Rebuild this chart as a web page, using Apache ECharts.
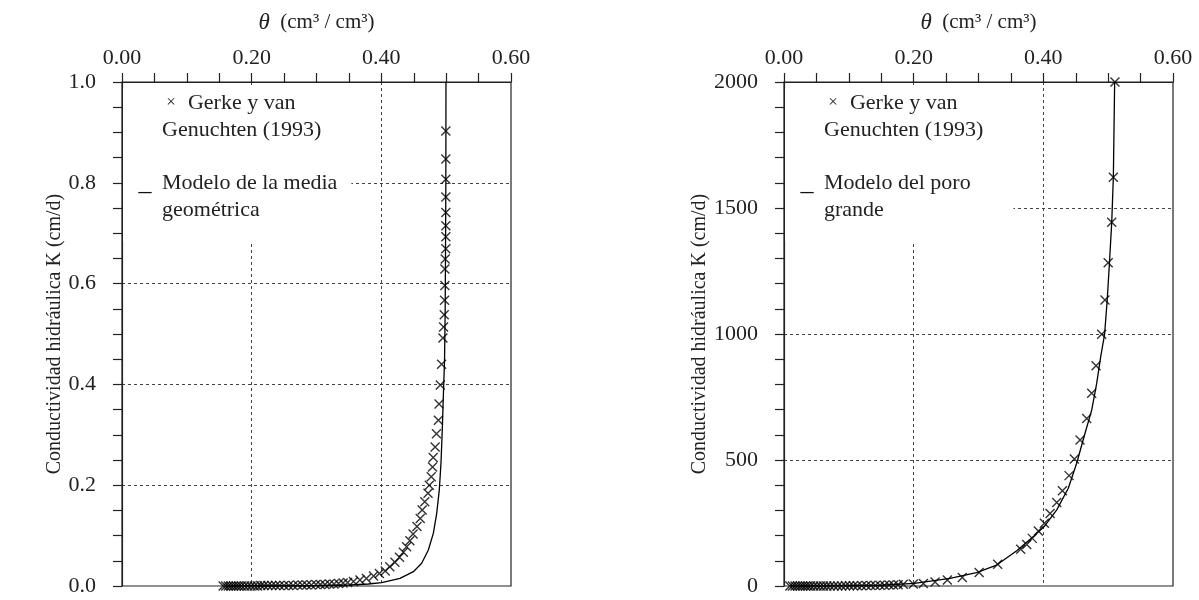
<!DOCTYPE html>
<html>
<head>
<meta charset="utf-8">
<script src="https://cdn.jsdelivr.net/npm/echarts@6/dist/echarts.min.js"></script>
<style>
  html, body { margin: 0; padding: 0; background: #fff; }
  #chart { width: 1199px; height: 600px; }
</style>
</head>
<body>
<div id="chart"></div>
<script>
// rangos de los ejes
const thetaRange = [0, 0.6];
const kRangeLeft = [0, 1];
const kRangeRight = [0, 2000];

// panel izquierdo: Gerke y van Genuchten (1993), theta y K (cm/d)
const gerkeThetaL = [0.156, 0.160, 0.164, 0.168, 0.172, 0.176, 0.180, 0.184, 0.189, 0.194,
  0.199, 0.204, 0.209, 0.214, 0.219, 0.225, 0.231, 0.237, 0.243, 0.250,
  0.257, 0.264, 0.271, 0.278, 0.285, 0.292, 0.299, 0.306, 0.313, 0.320,
  0.327, 0.334, 0.341, 0.348, 0.357, 0.367, 0.377, 0.388, 0.397, 0.406,
  0.413, 0.421, 0.428, 0.434, 0.439, 0.444, 0.449, 0.455, 0.460, 0.463,
  0.467, 0.472, 0.474, 0.477, 0.479, 0.480, 0.483, 0.485, 0.488, 0.489,
  0.491, 0.493, 0.495, 0.496, 0.497, 0.4975, 0.498, 0.498, 0.4985, 0.4995,
  0.4995, 0.4995, 0.4995, 0.4995, 0.4995, 0.4995, 0.4995];
const gerkeKL = [0, 0, 0, 0, 0, 0, 0, 0, 0, 0,
  0, 0, 0, 0.001, 0.001, 0.001, 0.001, 0.001, 0.001, 0.001,
  0.001, 0.001, 0.002, 0.002, 0.002, 0.002, 0.003, 0.003, 0.003, 0.004,
  0.004, 0.005, 0.006, 0.007, 0.009, 0.012, 0.015, 0.020, 0.025, 0.030,
  0.038, 0.047, 0.057, 0.067, 0.078, 0.090, 0.103, 0.118, 0.134, 0.151,
  0.167, 0.184, 0.200, 0.217, 0.236, 0.255, 0.276, 0.302, 0.329, 0.361,
  0.399, 0.440, 0.492, 0.514, 0.538, 0.567, 0.596, 0.629, 0.649, 0.669,
  0.693, 0.715, 0.741, 0.772, 0.807, 0.847, 0.903];

// modelo de la media geométrica
const mediaTheta = [0.16, 0.25, 0.30, 0.352, 0.38, 0.4005, 0.4288, 0.4494, 0.4622, 0.4725,
  0.4802, 0.4854, 0.4894, 0.492, 0.494, 0.4956, 0.4975, 0.4985, 0.499, 0.4995, 0.4997];
const mediaK = [0, 0.0005, 0.001, 0.002, 0.004, 0.0066, 0.0152, 0.0284, 0.045, 0.0714,
  0.1045, 0.1442, 0.1905, 0.2434, 0.3095, 0.3756, 0.448, 0.55, 0.667, 0.8, 1.0];

// panel derecho: Gerke y van Genuchten (1993)
const gerkeThetaR = [0.009, 0.013, 0.017, 0.021, 0.025, 0.029, 0.033, 0.037, 0.041, 0.046,
  0.051, 0.056, 0.061, 0.066, 0.071, 0.077, 0.083, 0.089, 0.095, 0.101,
  0.107, 0.113, 0.120, 0.127, 0.134, 0.141, 0.148, 0.155, 0.162, 0.169,
  0.176, 0.184, 0.1995, 0.215, 0.233, 0.252, 0.275, 0.301, 0.3296, 0.3651,
  0.3744, 0.383, 0.3923, 0.4016, 0.4104, 0.4207, 0.4294, 0.4397, 0.4479, 0.4566,
  0.4669, 0.4746, 0.4813, 0.490, 0.4951, 0.500, 0.5055, 0.508, 0.5105];
const gerkeKR = [0, 0, 0, 0, 0, 0, 0, 0, 0, 0,
  0, 0, 0, 0, 0, 0, 0, 0, 1, 1,
  1, 1, 1, 2, 2, 2, 3, 3, 4, 4,
  5, 7, 8, 10, 16, 24, 34, 54, 86, 146,
  165, 189, 218, 249, 288, 331, 378, 438, 504, 579,
  665, 765, 874, 999, 1135, 1283, 1443, 1622, 2000];

// modelo del poro grande
const poroTheta = [0.01, 0.10, 0.15, 0.201, 0.256, 0.297, 0.328, 0.359, 0.3846, 0.401,
  0.4207, 0.4385, 0.4514, 0.4643, 0.4746, 0.4823, 0.4885, 0.4945, 0.4985, 0.502,
  0.5055, 0.508, 0.510];
const poroK = [0, 1, 3, 10.6, 30, 53, 83, 140, 196, 235,
  302, 388, 487, 606, 698, 804, 910, 999, 1135, 1283,
  1443, 1622, 2000];

const FONT = 'Liberation Serif';
const nameGerke = 'Gerke y van Genuchten (1993)';
const nameMedia = 'Modelo de la media geométrica';
const namePoro = 'Modelo del poro grande';

function pairs(xs, ys) {
  return xs.map((x, i) => [x, ys[i]]);
}

const legendText = {};
legendText[nameGerke] = '{m|×}{t|Gerke y van}\n{s| }{t|Genuchten (1993)}';
legendText[nameMedia] = '{d|_}{t|Modelo de la media}\n{s| }{t|geométrica}';
legendText[namePoro] = '{d|_}{t|Modelo del poro}\n{s| }{t|grande}';

const legendRich = {
  m: { width: 34, align: 'center', fontSize: 17, lineHeight: 27, fontFamily: FONT, color: '#222' },
  d: { width: 34, align: 'center', fontSize: 26, lineHeight: 27, fontFamily: FONT, color: '#111' },
  s: { width: 34, fontSize: 15, lineHeight: 27 },
  t: { fontSize: 22, lineHeight: 27, fontFamily: FONT, color: '#222' }
};

function makeLegend(names, left, padRight) {
  return {
    data: names,
    orient: 'vertical',
    left: left,
    top: 88,
    icon: 'none',
    itemWidth: 0,
    itemHeight: 27,
    itemGap: 29,
    padding: [4, padRight, 20, 0],
    backgroundColor: '#fff',
    selectedMode: false,
    formatter: name => legendText[name],
    textStyle: { rich: legendRich }
  };
}

const gridLine = { show: true, showMinLine: false, showMaxLine: false,
  lineStyle: { color: '#444', type: [3, 3], width: 1 } };

function makeX(gridIndex) {
  return {
    gridIndex: gridIndex,
    type: 'value',
    position: 'top',
    min: thetaRange[0],
    max: thetaRange[1],
    interval: 0.2,
    name: '{i|θ}  (cm³ / cm³)',
    nameLocation: 'middle',
    nameGap: 48,
    nameTextStyle: { fontSize: 21, fontFamily: FONT, color: '#222',
      rich: { i: { fontSize: 23, fontStyle: 'italic', fontFamily: FONT, color: '#222' } } },
    axisLine: { onZero: false, lineStyle: { color: '#222', width: 1.2 } },
    axisTick: { length: 9, lineStyle: { color: '#222', width: 1.2 } },
    minorTick: { show: true, splitNumber: 4, length: 9, lineStyle: { color: '#222', width: 1.2 } },
    axisLabel: { fontSize: 22, fontFamily: FONT, color: '#222', margin: 13,
      formatter: v => v.toFixed(2) },
    splitLine: gridLine
  };
}

function makeY(gridIndex, range, interval, minorSplit, digits) {
  return {
    gridIndex: gridIndex,
    type: 'value',
    min: range[0],
    max: range[1],
    interval: interval,
    name: 'Conductividad hidráulica K (cm/d)',
    nameLocation: 'middle',
    nameGap: 45,
    nameTextStyle: { fontSize: 20, fontFamily: FONT, color: '#222' },
    axisLine: { show: true, onZero: false, lineStyle: { color: '#222', width: 1.2 } },
    axisTick: { show: true, length: 9, lineStyle: { color: '#222', width: 1.2 } },
    minorTick: { show: true, splitNumber: minorSplit, length: 9, lineStyle: { color: '#222', width: 1.2 } },
    axisLabel: { fontSize: 22, fontFamily: FONT, color: '#222', margin: 26,
      formatter: v => v.toFixed(digits) },
    splitLine: gridLine
  };
}

const crossSymbol = 'path://M0,0L10,10M10,0L0,10';

function scatterSeries(idx, data) {
  return {
    name: nameGerke,
    type: 'scatter',
    xAxisIndex: idx,
    yAxisIndex: idx,
    data: data,
    symbol: crossSymbol,
    symbolSize: 9,
    clip: false,
    itemStyle: { color: 'transparent', borderColor: '#000', borderWidth: 1.4 },
    z: 3
  };
}

function lineSeries(idx, name, data) {
  return {
    name: name,
    type: 'line',
    xAxisIndex: idx,
    yAxisIndex: idx,
    data: data,
    showSymbol: false,
    clip: false,
    lineStyle: { color: '#000', width: 1.3 },
    z: 2
  };
}

const chart = echarts.init(document.getElementById('chart'));
chart.setOption({
  animation: false,
  backgroundColor: '#fff',
  grid: [
    { left: 122, top: 82, width: 389, height: 504, show: true, borderColor: '#222', borderWidth: 1.2 },
    { left: 784, top: 82, width: 389, height: 504, show: true, borderColor: '#222', borderWidth: 1.2 }
  ],
  legend: [
    makeLegend([nameGerke, nameMedia], 123, 14),
    makeLegend([nameGerke, namePoro], 785, 30)
  ],
  xAxis: [makeX(0), makeX(1)],
  yAxis: [
    makeY(0, kRangeLeft, 0.2, 4, 1),
    makeY(1, kRangeRight, 500, 5, 0)
  ],
  series: [
    scatterSeries(0, pairs(gerkeThetaL, gerkeKL)),
    lineSeries(0, nameMedia, pairs(mediaTheta, mediaK)),
    scatterSeries(1, pairs(gerkeThetaR, gerkeKR)),
    lineSeries(1, namePoro, pairs(poroTheta, poroK))
  ]
});
</script>
</body>
</html>
